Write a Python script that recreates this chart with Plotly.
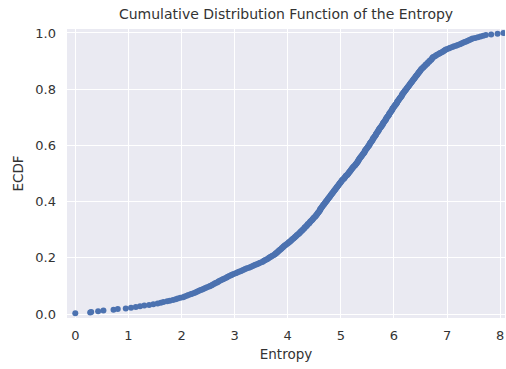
import numpy as np
import plotly.graph_objects as go

# Entropy sample values (sorted)
entropy = [
    0.00, 0.28, 0.30, 0.43, 0.53, 0.72, 0.80, 0.95,
    1.05, 1.14, 1.22, 1.30, 1.39, 1.47, 1.55, 1.61, 1.66, 1.73,
    1.78, 1.84, 1.89, 1.93, 1.98,
    2.03, 2.06, 2.10, 2.13, 2.17, 2.20, 2.24,
    2.27, 2.30, 2.33, 2.36, 2.39, 2.42, 2.45, 2.48,
    2.52, 2.54, 2.57, 2.59, 2.62, 2.64, 2.67, 2.69, 2.71, 2.74,
    2.77, 2.79, 2.82, 2.85, 2.87, 2.90, 2.93, 2.95, 2.98,
    3.02, 3.05, 3.08, 3.11, 3.14, 3.17, 3.20, 3.23,
    3.27, 3.30, 3.33, 3.36, 3.39, 3.42, 3.45, 3.48,
    3.52, 3.54, 3.56, 3.58, 3.61, 3.63, 3.65, 3.67, 3.69, 3.71, 3.74,
    3.76, 3.77, 3.79, 3.80, 3.82, 3.83, 3.85, 3.86, 3.88, 3.89, 3.91, 3.92,
    3.94, 3.95, 3.97, 3.99,
    4.01, 4.02, 4.04, 4.05, 4.07, 4.08, 4.10, 4.11, 4.13, 4.14, 4.16, 4.17,
    4.19, 4.20, 4.22, 4.23, 4.24,
    4.26, 4.27, 4.28, 4.30, 4.31, 4.32, 4.33, 4.35, 4.36, 4.37, 4.38, 4.40,
    4.41, 4.42, 4.43, 4.45, 4.46, 4.47, 4.48, 4.49,
    4.51, 4.52, 4.53, 4.54, 4.55, 4.56, 4.57, 4.58, 4.59, 4.60, 4.61, 4.61,
    4.62, 4.63, 4.64, 4.65, 4.66, 4.67, 4.68, 4.69, 4.70, 4.71, 4.72, 4.73,
    4.74, 4.75,
    4.76, 4.77, 4.78, 4.79, 4.80, 4.81, 4.82, 4.83, 4.84, 4.85, 4.86, 4.87,
    4.88, 4.89, 4.90, 4.91, 4.92, 4.93, 4.94, 4.95, 4.96, 4.97, 4.98, 4.99,
    5.00,
    5.01, 5.02, 5.03, 5.05, 5.06, 5.07, 5.08, 5.09, 5.10, 5.12, 5.13, 5.14,
    5.15, 5.16, 5.17, 5.18, 5.19, 5.20, 5.21, 5.22, 5.23, 5.24,
    5.26, 5.27, 5.28, 5.29, 5.30, 5.31, 5.32, 5.33, 5.33, 5.34, 5.35, 5.36,
    5.37, 5.38, 5.39, 5.40, 5.41, 5.42, 5.43, 5.44, 5.45, 5.45, 5.46, 5.47,
    5.48, 5.49, 5.50,
    5.51, 5.52, 5.53, 5.54, 5.54, 5.55, 5.56, 5.57, 5.58, 5.59, 5.60, 5.60,
    5.61, 5.62, 5.63, 5.64, 5.65, 5.66, 5.66, 5.67, 5.68, 5.69, 5.70, 5.71,
    5.71, 5.72, 5.73, 5.74, 5.75,
    5.76, 5.77, 5.78, 5.79, 5.79, 5.80, 5.81, 5.82, 5.83, 5.84, 5.85, 5.85,
    5.86, 5.87, 5.88, 5.89, 5.90, 5.91, 5.91, 5.92, 5.93, 5.94, 5.95, 5.96,
    5.97, 5.97, 5.98, 5.99, 6.00,
    6.01, 6.02, 6.03, 6.04, 6.05, 6.06, 6.06, 6.07, 6.08, 6.09, 6.10, 6.11,
    6.12, 6.13, 6.14, 6.15, 6.15, 6.16, 6.17, 6.18, 6.19, 6.20, 6.21, 6.22,
    6.23, 6.24, 6.25,
    6.26, 6.27, 6.28, 6.29, 6.30, 6.31, 6.32, 6.33, 6.34, 6.35, 6.36, 6.37,
    6.38, 6.39, 6.40, 6.41, 6.42, 6.43, 6.44, 6.45, 6.46, 6.47, 6.48, 6.49,
    6.50,
    6.51, 6.52, 6.54, 6.55, 6.56, 6.58, 6.59, 6.60, 6.62, 6.63, 6.64, 6.66,
    6.67, 6.68, 6.70, 6.71, 6.72, 6.73, 6.74,
    6.77, 6.79, 6.81, 6.84, 6.86, 6.88, 6.91, 6.93, 6.95, 6.97, 6.99,
    7.03, 7.06, 7.10, 7.13, 7.17, 7.20, 7.24,
    7.27, 7.30, 7.33, 7.36, 7.39, 7.42, 7.45, 7.48,
    7.53, 7.58, 7.63, 7.68, 7.73,
    7.83, 7.95, 8.06,
]

x_ticks = [0, 1, 2, 3, 4, 5, 6, 7, 8]
y_ticks = [0.0, 0.2, 0.4, 0.6, 0.8, 1.0]
y_tick_labels = ["0.0", "0.2", "0.4", "0.6", "0.8", "1.0"]

xs = np.sort(np.array(entropy))
ecdf = np.arange(1, len(xs) + 1) / len(xs)

FONT = "DejaVu Sans, Liberation Sans, Arial, sans-serif"
TXT = "#333333"

fig = go.Figure(
    go.Scatter(
        x=xs, y=ecdf, mode="markers",
        marker=dict(color="#4C72B0", size=6, line=dict(width=0)),
        showlegend=False,
    )
)

fig.update_layout(
    width=506, height=369,
    margin=dict(l=67, r=1, t=29, b=51),
    paper_bgcolor="white",
    plot_bgcolor="#EAEAF2",
    font=dict(family=FONT, size=13, color=TXT),
    title=dict(
        text="Cumulative Distribution Function of the Entropy",
        x=0.5, xref="paper", xanchor="center",
        y=1 - 14.5 / 369, yref="container", yanchor="middle",
        font=dict(family=FONT, size=14, color=TXT),
    ),
)

fig.update_xaxes(
    range=[-0.156, 8.09],
    tickvals=x_ticks,
    showgrid=True, gridcolor="white", gridwidth=1.2,
    zeroline=False, showline=False, ticks="",
    ticklabelstandoff=8,
    tickfont=dict(size=13),
    title=dict(text="Entropy", standoff=7, font=dict(size=13.5, color=TXT)),
)
fig.update_yaxes(
    range=[-0.0142, 1.0142],
    tickvals=y_ticks, ticktext=y_tick_labels,
    showgrid=True, gridcolor="white", gridwidth=1.2,
    zeroline=False, showline=False, ticks="",
    ticklabelstandoff=10,
    tickfont=dict(size=13),
    title=dict(text="ECDF", standoff=8, font=dict(size=13.5, color=TXT)),
)

fig.write_html("out.html")
